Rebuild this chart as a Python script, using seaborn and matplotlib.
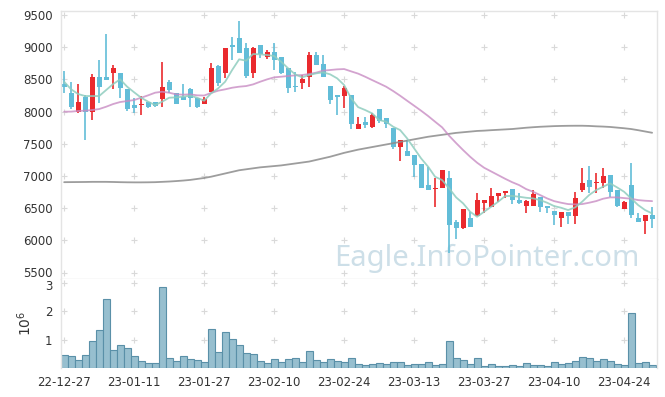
import numpy as np
import pandas as pd
import matplotlib
matplotlib.use('Agg')
import matplotlib.pyplot as plt
import matplotlib.transforms as mtransforms
import seaborn as sns

# trading days (KRX), 22-12-27 .. 23-04-28
holidays = ['2022-12-30', '2023-01-23', '2023-01-24', '2023-03-01']

open_ = [8430, 8284, 7999, 8227, 7999, 8537, 8537, 8605, 8594, 8346,
         8102, 8102, 8144, 8144, 8190, 8460, 8284, 8232, 8351, 8216,
         8123, 8304, 8708, 8594, 9034, 9148, 8982, 8594, 9034, 8843,
         8931, 8843, 8672, 8397, 8449, 8542, 8879, 8739, 8397, 8253,
         8242, 8258, 7725, 7838, 7766, 8040, 7895, 7740, 7455, 7393,
         7326, 7186, 6860, 6793, 6819, 6964, 6291, 6187, 6343, 6379,
         6586, 6524, 6695, 6731, 6798, 6627, 6539, 6539, 6679, 6534,
         6457, 6343, 6436, 6384, 6783, 6938, 6896, 6896, 7015, 6783,
         6488, 6860, 6343, 6306, 6394]
high = [8630, 8455, 8423, 8258, 8579, 8796, 9205, 8718, 8594, 8346,
        8216, 8242, 8150, 8144, 8775, 8486, 8284, 8423, 8361, 8216,
        8232, 8760, 8718, 8982, 9164, 9412, 9060, 9008, 9034, 8957,
        9060, 8843, 8672, 8620, 8568, 8931, 8931, 8879, 8397, 8253,
        8397, 8258, 7911, 7911, 7973, 8040, 7895, 7740, 7559, 7559,
        7326, 7186, 7145, 6964, 7093, 7083, 6317, 6488, 6446, 6741,
        6627, 6808, 6741, 6767, 6798, 6731, 6627, 6783, 6679, 6534,
        6457, 6446, 6436, 6746, 7119, 7155, 7041, 7119, 7015, 6783,
        6617, 7197, 6420, 6394, 6513]
low = [8284, 8046, 7983, 7554, 7870, 8139, 8496, 8346, 8206, 8009,
       7973, 7947, 8050, 8066, 8077, 8294, 8113, 8180, 8077, 8051,
       8123, 8304, 8397, 8517, 8801, 8905, 8517, 8517, 8827, 8812,
       8646, 8584, 8284, 8309, 8346, 8387, 8724, 8532, 8118, 7947,
       8051, 7725, 7725, 7745, 7740, 7828, 7740, 7414, 7238, 7310,
       6979, 6819, 6783, 6513, 6819, 5799, 6016, 6172, 6213, 6379,
       6420, 6524, 6601, 6653, 6565, 6565, 6420, 6539, 6446, 6420,
       6239, 6213, 6255, 6255, 6757, 6731, 6741, 6808, 6679, 6524,
       6488, 6343, 6291, 6094, 6198]
close = [8390, 8071, 8149, 7999, 8537, 8387, 8496, 8682, 8361, 8035,
         8051, 8118, 8066, 8092, 8377, 8335, 8123, 8180, 8216, 8077,
         8190, 8677, 8449, 8982, 9008, 8905, 8553, 8982, 8889, 8931,
         8801, 8605, 8361, 8387, 8511, 8879, 8724, 8542, 8180, 8232,
         8361, 7807, 7807, 7797, 7947, 7859, 7807, 7455, 7559, 7310,
         7171, 6819, 6783, 6808, 7093, 6239, 6187, 6488, 6213, 6627,
         6627, 6689, 6741, 6767, 6627, 6586, 6612, 6720, 6524, 6498,
         6394, 6446, 6384, 6653, 6896, 6834, 6907, 7000, 6757, 6539,
         6591, 6394, 6291, 6394, 6332]

ma5 = [8464, 8346, 8273, 8242, 8242, 8242, 8335, 8428, 8501, 8387,
       8300, 8216, 8154, 8102, 8154, 8216, 8221, 8232, 8247, 8216,
       8169, 8284, 8361, 8464, 8646, 8812, 8791, 8894, 8889, 8879,
       8863, 8775, 8672, 8579, 8532, 8568, 8594, 8610, 8579, 8517,
       8413, 8206, 8070, 8025, 7973, 7870, 7843, 7766, 7714, 7585,
       7430, 7274, 7145, 6989, 6938, 6809, 6669, 6576, 6446, 6368,
       6446, 6523, 6601, 6689, 6692, 6679, 6663, 6653, 6627, 6586,
       6534, 6508, 6472, 6513, 6601, 6705, 6782, 6834, 6886, 6824,
       6756, 6653, 6550, 6472, 6420]
ma20 = [7999, 8000, 8010, 8015, 8025, 8040, 8076, 8118, 8149, 8164,
        8180, 8216, 8253, 8294, 8309, 8294, 8268, 8263, 8268, 8253,
        8250, 8290, 8325, 8346, 8371, 8387, 8397, 8423, 8464, 8501,
        8532, 8542, 8553, 8563, 8568, 8584, 8605, 8636, 8646, 8656,
        8661, 8625, 8590, 8542, 8490, 8439, 8387, 8320, 8247, 8169,
        8092, 8014, 7932, 7843, 7756, 7626, 7512, 7403, 7300, 7207,
        7129, 7072, 7015, 6958, 6905, 6860, 6798, 6756, 6705, 6653,
        6611, 6586, 6565, 6560, 6565, 6586, 6611, 6648, 6669, 6669,
        6658, 6648, 6627, 6617, 6611]
ma120 = [6905, 6906, 6907, 6908, 6910, 6910, 6910, 6908, 6905, 6903,
         6902, 6902, 6903, 6905, 6910, 6915, 6922, 6930, 6940, 6955,
         6970, 6990, 7015, 7040, 7065, 7090, 7105, 7120, 7135, 7145,
         7155, 7165, 7180, 7195, 7210, 7225, 7250, 7275, 7300, 7330,
         7360, 7385, 7410, 7430, 7450, 7470, 7490, 7510, 7530, 7550,
         7570, 7590, 7610, 7625, 7640, 7655, 7670, 7680, 7690, 7700,
         7705, 7712, 7718, 7724, 7730, 7740, 7750, 7758, 7765, 7770,
         7775, 7778, 7780, 7781, 7781, 7778, 7772, 7768, 7762, 7752,
         7742, 7730, 7712, 7692, 7672]

# volume, millions of shares
volume = [0.46, 0.44, 0.29, 0.46, 0.96, 1.35, 2.44, 0.65, 0.81, 0.72,
          0.42, 0.26, 0.19, 0.19, 2.86, 0.35, 0.26, 0.42, 0.33, 0.29,
          0.22, 1.38, 0.58, 1.28, 1.02, 0.81, 0.54, 0.49, 0.26, 0.19,
          0.32, 0.22, 0.32, 0.35, 0.22, 0.61, 0.29, 0.22, 0.32, 0.26,
          0.22, 0.35, 0.14, 0.11, 0.14, 0.18, 0.14, 0.21, 0.21, 0.11,
          0.14, 0.14, 0.21, 0.11, 0.14, 0.95, 0.35, 0.28, 0.14, 0.35,
          0.07, 0.14, 0.07, 0.07, 0.11, 0.07, 0.18, 0.11, 0.11, 0.07,
          0.21, 0.14, 0.18, 0.25, 0.39, 0.35, 0.25, 0.32, 0.25, 0.14,
          0.11, 1.94, 0.18, 0.21, 0.11]

price_ticks = [5500, 6000, 6500, 7000, 7500, 8000, 8500, 9000, 9500]
vol_ticks = [1, 2, 3]

RED = '#ea2a2e'
BLUE = '#62bdd8'
GRID = '#d9d9d9'
FRAME = '#e4e4e4'

days = pd.bdate_range('2022-12-27', '2023-04-28')
days = days[~days.isin(pd.to_datetime(holidays))]

df = pd.DataFrame({'open': open_, 'high': high, 'low': low, 'close': close,
                   'ma5': ma5, 'ma20': ma20, 'ma120': ma120, 'volume': volume})
df['i'] = np.arange(len(df))

sns.set_theme(style='white')
plt.rcParams['font.family'] = ['DejaVu Sans']

fig = plt.figure(figsize=(6.65, 3.97), dpi=100)
ax = fig.add_axes([61 / 665, 1 - 279 / 397, 596 / 665, 268 / 397])
axv = fig.add_axes([61 / 665, 1 - 368 / 397, 596 / 665, 89 / 397], sharex=ax)

# candles
colors = np.where(df['close'] > df['open'], RED, BLUE)
ax.vlines(df['i'], df['low'], df['high'], color=colors, lw=1.2, zorder=2)
body = np.maximum((df['close'] - df['open']).abs(), 14)
ax.bar(df['i'], body, bottom=np.minimum(df['open'], df['close']),
       width=0.72, color=colors, linewidth=0, zorder=2)

# moving averages
sns.lineplot(data=df, x='i', y='ma120', ax=ax, color='#8c8c8c', lw=1.3, alpha=0.85, zorder=3)
sns.lineplot(data=df, x='i', y='ma20', ax=ax, color='#c88cc3', lw=1.3, alpha=0.8, zorder=3)
sns.lineplot(data=df, x='i', y='ma5', ax=ax, color='#8fcdbf', lw=1.3, alpha=0.85, zorder=3)

# volume
sns.barplot(data=df, x='i', y='volume', ax=axv, color='#97bfcf', width=1.0,
            edgecolor='#5a90a8', linewidth=0.8, saturation=1, zorder=2)

xt = df['i'][::10].tolist()
ax.set_xlim(-0.45, 84.7)
ax.set_ylim(5402, 9562)
ax.set_yticks(price_ticks)
ax.set_yticklabels([str(v) for v in price_ticks])
axv.set_ylim(0, 3.14)
axv.set_yticks(vol_ticks)
axv.set_yticklabels([str(v) for v in vol_ticks])
axv.set_xticks(xt)
axv.set_xticklabels(days[::10].strftime('%y-%m-%d'))
ax.tick_params(axis='x', labelbottom=False)
ax.set_xlabel('')
ax.set_ylabel('')
axv.set_xlabel('')
axv.set_ylabel(r'$10^6$', fontsize=10, color='#333333', labelpad=8)

for a in (ax, axv):
    a.tick_params(length=0, labelsize=8.5, labelcolor='#333333', pad=6)
    for s in a.spines.values():
        s.set_color(FRAME)
        s.set_linewidth(1)
axv.spines['top'].set_visible(False)
axv.spines['bottom'].set_visible(False)
axv.set_xlim(-0.45, 84.7)

# keep "5500" and "3" from touching at the panel seam
nudge = mtransforms.ScaledTranslation(0, -2 / 100, fig.dpi_scale_trans)
top_lbl = axv.get_yticklabels()[-1]
top_lbl.set_transform(top_lbl.get_transform() + nudge)
nudge_up = mtransforms.ScaledTranslation(0, 1 / 100, fig.dpi_scale_trans)
low_lbl = ax.get_yticklabels()[0]
low_lbl.set_transform(low_lbl.get_transform() + nudge_up)

# "+" marks at the tick crossings
gx, gy = np.meshgrid(xt, price_ticks)
ax.scatter(gx.ravel(), gy.ravel(), marker='+', s=14, color=GRID, linewidths=0.8, zorder=1)
gx, gy = np.meshgrid(xt, vol_ticks)
axv.scatter(gx.ravel(), gy.ravel(), marker='+', s=14, color=GRID, linewidths=0.8, zorder=1)

ax.text(0.971, 0.048, 'Eagle.InfoPointer.com', transform=ax.transAxes,
        ha='right', va='baseline', fontsize=21, color='#cddfe8',
        family=['Noto Sans', 'DejaVu Sans'], zorder=0)

fig.savefig('out.png', dpi=100)
